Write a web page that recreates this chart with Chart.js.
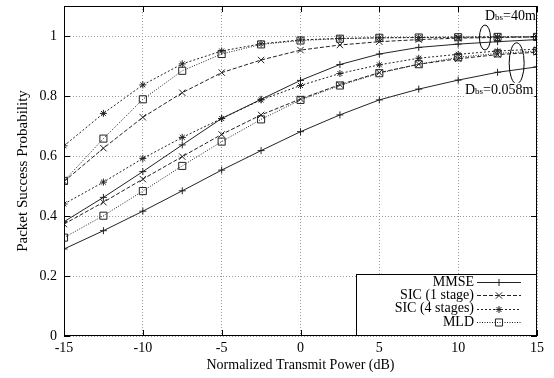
<!DOCTYPE html>
<html>
<head>
<meta charset="utf-8">
<script src="https://cdn.jsdelivr.net/npm/chart.js@4/dist/chart.umd.min.js"></script>
<style>
  html, body { margin: 0; padding: 0; background: #fff; }
</style>
</head>
<body>
<canvas id="myChart" width="554" height="378"></canvas>
<script>
// x positions (dB)
const powerDb = [-15, -12.5, -10, -7.5, -5, -2.5, 0, 2.5, 5, 7.5, 10, 12.5, 15];
const xTicks = [-15, -10, -5, 0, 5, 10, 15];
const yTicks = [0, 0.2, 0.4, 0.6, 0.8, 1];

const methods = ['MMSE', 'SIC (1 stage)', 'SIC (4 stages)', 'MLD'];

// Dbs = 40m
const mmse40 = [0.381, 0.462, 0.548, 0.637, 0.725, 0.789, 0.852, 0.905, 0.940, 0.962, 0.973, 0.981, 0.988];
const sic1_40 = [0.515, 0.626, 0.729, 0.811, 0.878, 0.920, 0.953, 0.970, 0.981, 0.988, 0.993, 0.995, 0.997];
const sic4_40 = [0.634, 0.742, 0.837, 0.907, 0.950, 0.974, 0.987, 0.992, 0.994, 0.995, 0.996, 0.997, 0.997];
const mld40 = [0.517, 0.658, 0.789, 0.884, 0.940, 0.972, 0.985, 0.991, 0.994, 0.995, 0.996, 0.997, 0.997];

// Dbs = 0.058m
const mmse058 = [0.290, 0.351, 0.416, 0.484, 0.553, 0.618, 0.681, 0.737, 0.787, 0.823, 0.853, 0.879, 0.897];
const sic1_058 = [0.373, 0.446, 0.523, 0.598, 0.672, 0.737, 0.790, 0.838, 0.878, 0.906, 0.924, 0.938, 0.946];
const sic4_058 = [0.440, 0.513, 0.592, 0.662, 0.725, 0.787, 0.835, 0.875, 0.904, 0.926, 0.939, 0.950, 0.956];
const mld058 = [0.328, 0.401, 0.483, 0.567, 0.648, 0.722, 0.787, 0.835, 0.876, 0.906, 0.929, 0.942, 0.950];

const FONT = '"Liberation Serif", "Times New Roman", serif';

const styles = {
    'MMSE': { dash: [], pointStyle: 'cross', radius: 3.5 },
    'SIC (1 stage)': { dash: [4, 2], pointStyle: 'crossRot', radius: 4.5 },
    'SIC (4 stages)': { dash: [2, 2], pointStyle: 'star', radius: 3.5 },
    'MLD': { dash: [1, 1.5], pointStyle: 'rect', radius: 5 }
};

function makeSet(method, values) {
    const s = styles[method];
    return {
        label: method,
        data: powerDb.map((p, i) => ({ x: p, y: values[i] })),
        borderColor: '#222',
        borderWidth: 1,
        borderDash: s.dash,
        pointStyle: s.pointStyle,
        pointRadius: s.radius,
        pointBorderColor: '#222',
        pointBackgroundColor: 'rgba(255,255,255,0)',
        pointBorderWidth: 1,
        tension: 0
    };
}

const decorations = {
    id: 'decorations',
    afterDatasetsDraw(chart) {
        const { ctx, chartArea: a, scales: { x, y } } = chart;
        ctx.save();

        // frame and inward tick marks
        ctx.strokeStyle = '#000';
        ctx.lineWidth = 1;
        ctx.setLineDash([]);
        ctx.strokeRect(Math.round(a.left) + 0.5, Math.round(a.top) + 0.5,
            Math.round(a.right - a.left) - 1, Math.round(a.bottom - a.top) - 1);
        ctx.beginPath();
        xTicks.forEach(v => {
            const px = Math.round(x.getPixelForValue(v)) + 0.5;
            ctx.moveTo(px, a.bottom); ctx.lineTo(px, a.bottom - 6);
            ctx.moveTo(px, a.top); ctx.lineTo(px, a.top + 6);
        });
        yTicks.forEach(v => {
            const py = Math.round(y.getPixelForValue(v)) + 0.5;
            ctx.moveTo(a.left, py); ctx.lineTo(a.left + 6, py);
            ctx.moveTo(a.right, py); ctx.lineTo(a.right - 6, py);
        });
        ctx.stroke();

        // distance annotations
        function ellipse(cx, cy, rx, ry) {
            ctx.beginPath();
            ctx.ellipse(x.getPixelForValue(cx), y.getPixelForValue(cy), rx, ry, 0, 0, Math.PI * 2);
            ctx.stroke();
        }
        ellipse(11.70, 0.995, 5.5, 12.5);
        ellipse(13.71, 0.909, 7.5, 20.5);

        function dLabel(vx, vy, rest, clear) {
            const px = x.getPixelForValue(vx);
            const py = y.getPixelForValue(vy);
            ctx.font = '14px ' + FONT;
            const wD = ctx.measureText('D').width;
            ctx.font = '9px ' + FONT;
            const wS = ctx.measureText('bs').width;
            ctx.font = '14px ' + FONT;
            const wR = ctx.measureText(rest).width;
            if (clear) {
                ctx.fillStyle = '#fff';
                ctx.fillRect(px - 1, py - 11, wD + wS + wR + 2, 14);
            }
            ctx.fillStyle = '#000';
            ctx.textAlign = 'left';
            ctx.textBaseline = 'alphabetic';
            ctx.fillText('D', px, py);
            ctx.font = '9px ' + FONT;
            ctx.fillText('bs', px + wD, py);
            ctx.font = '14px ' + FONT;
            ctx.fillText(rest, px + wD + wS, py);
        }
        dLabel(11.70, 1.053, '=40m', false);
        dLabel(10.43, 0.807, '=0.058m', true);

        // legend box in the lower right corner
        const boxL = a.right - 181, boxT = a.bottom - 62;
        ctx.fillStyle = '#fff';
        ctx.fillRect(boxL, boxT, a.right - boxL, a.bottom - boxT);
        ctx.strokeStyle = '#000';
        ctx.strokeRect(Math.round(boxL) + 0.5, Math.round(boxT) + 0.5,
            Math.round(a.right - boxL) - 1, Math.round(a.bottom - boxT) - 1);
        ctx.font = '14px ' + FONT;
        ctx.textAlign = 'right';
        ctx.textBaseline = 'middle';
        methods.forEach((m, i) => {
            const rowY = boxT + 8 + i * 13.4;
            const s = styles[m];
            ctx.fillStyle = '#000';
            ctx.fillText(m, boxL + 118, rowY);
            ctx.strokeStyle = '#222';
            ctx.lineWidth = 1;
            ctx.setLineDash(s.dash);
            ctx.beginPath();
            ctx.moveTo(boxL + 121, Math.round(rowY) + 0.5);
            ctx.lineTo(boxL + 165, Math.round(rowY) + 0.5);
            ctx.stroke();
            ctx.setLineDash([]);
            ctx.fillStyle = 'rgba(255,255,255,0)';
            Chart.helpers.drawPoint(ctx, {
                pointStyle: s.pointStyle, radius: s.radius, rotation: 0, borderWidth: 1
            }, boxL + 143, Math.round(rowY) + 0.5);
        });

        ctx.restore();
    }
};

const ctx = document.getElementById('myChart').getContext('2d');

new Chart(ctx, {
    type: 'line',
    data: {
        datasets: [
            makeSet('MMSE', mmse40),
            makeSet('SIC (1 stage)', sic1_40),
            makeSet('SIC (4 stages)', sic4_40),
            makeSet('MLD', mld40),
            makeSet('MMSE', mmse058),
            makeSet('SIC (1 stage)', sic1_058),
            makeSet('SIC (4 stages)', sic4_058),
            makeSet('MLD', mld058)
        ]
    },
    options: {
        responsive: false,
        animation: false,
        layout: { padding: { top: 5, right: 17, left: 0, bottom: 0 } },
        plugins: {
            legend: { display: false },
            tooltip: { enabled: false }
        },
        scales: {
            x: {
                type: 'linear',
                min: -15,
                max: 15,
                afterBuildTicks: (scale) => { scale.ticks = xTicks.map(v => ({ value: v })); },
                afterFit: (scale) => {
                    scale.height = 42;
                    scale.paddingLeft = 0;
                    scale.paddingRight = 0;
                },
                ticks: {
                    color: '#000',
                    font: { family: FONT, size: 14 },
                    padding: 4,
                    maxRotation: 0,
                    callback: (v) => String(v)
                },
                grid: { color: '#999', lineWidth: 1, drawTicks: false },
                border: { display: false, dash: [1, 2] },
                title: {
                    display: true,
                    text: 'Normalized Transmit Power (dB)',
                    color: '#000',
                    font: { family: FONT, size: 14 },
                    padding: { top: 0, bottom: 4 }
                }
            },
            y: {
                type: 'linear',
                min: 0,
                max: 1.1,
                afterBuildTicks: (scale) => { scale.ticks = yTicks.map(v => ({ value: v })); },
                afterFit: (scale) => {
                    scale.width = 64;
                    scale.paddingTop = 0;
                    scale.paddingBottom = 0;
                },
                ticks: {
                    color: '#000',
                    font: { family: FONT, size: 14 },
                    padding: 7,
                    callback: (v) => String(v)
                },
                grid: { color: '#999', lineWidth: 1, drawTicks: false },
                border: { display: false, dash: [1, 2] },
                title: {
                    display: true,
                    text: 'Packet Success Probability',
                    color: '#000',
                    font: { family: FONT, size: 15 },
                    padding: { top: 14, bottom: 0 }
                }
            }
        }
    },
    plugins: [decorations]
});
</script>
</body>
</html>
